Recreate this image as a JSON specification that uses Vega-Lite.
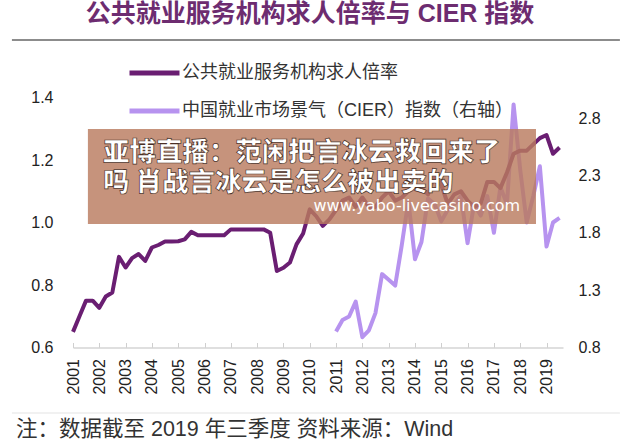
{
  "$schema": "https://vega.github.io/schema/vega-lite/v6.json",
  "width": 490,
  "height": 250,
  "autosize": {"type": "none"},
  "padding": {"left": 73, "top": 97.5, "right": 57, "bottom": 99.5},
  "background": "white",
  "config": {"view": {"stroke": null}, "font": "Liberation Sans, Noto Sans CJK SC"},
  "title": {
    "text": "公共就业服务机构求人倍率与 CIER 指数",
    "font": "Liberation Sans, Noto Sans CJK SC",
    "fontSize": 25,
    "fontWeight": "bold",
    "color": "#6d2c70",
    "anchor": "middle",
    "frame": "group",
    "dx": -8,
    "offset": 12
  },
  "datasets": {
    "ratio": [
      {"date": "2001-01-01", "value": 0.65}, {"date": "2001-04-01", "value": 0.70}, {"date": "2001-07-01", "value": 0.75}, {"date": "2001-10-01", "value": 0.75},
      {"date": "2002-01-01", "value": 0.727}, {"date": "2002-04-01", "value": 0.763}, {"date": "2002-07-01", "value": 0.776}, {"date": "2002-10-01", "value": 0.89},
      {"date": "2003-01-01", "value": 0.856}, {"date": "2003-04-01", "value": 0.886}, {"date": "2003-07-01", "value": 0.899}, {"date": "2003-10-01", "value": 0.877},
      {"date": "2004-01-01", "value": 0.92}, {"date": "2004-04-01", "value": 0.928}, {"date": "2004-07-01", "value": 0.939}, {"date": "2004-10-01", "value": 0.939},
      {"date": "2005-01-01", "value": 0.94}, {"date": "2005-04-01", "value": 0.946}, {"date": "2005-07-01", "value": 0.97}, {"date": "2005-10-01", "value": 0.959},
      {"date": "2006-01-01", "value": 0.959}, {"date": "2006-04-01", "value": 0.959}, {"date": "2006-07-01", "value": 0.959}, {"date": "2006-10-01", "value": 0.959},
      {"date": "2007-01-01", "value": 0.978}, {"date": "2007-04-01", "value": 0.978}, {"date": "2007-07-01", "value": 0.978}, {"date": "2007-10-01", "value": 0.978},
      {"date": "2008-01-01", "value": 0.978}, {"date": "2008-04-01", "value": 0.978}, {"date": "2008-07-01", "value": 0.967}, {"date": "2008-10-01", "value": 0.845},
      {"date": "2009-01-01", "value": 0.855}, {"date": "2009-04-01", "value": 0.872}, {"date": "2009-07-01", "value": 0.93}, {"date": "2009-10-01", "value": 0.965},
      {"date": "2010-01-01", "value": 1.042}, {"date": "2010-04-01", "value": 1.02}, {"date": "2010-07-01", "value": 0.989}, {"date": "2010-10-01", "value": 1.01},
      {"date": "2011-01-01", "value": 1.04}, {"date": "2011-04-01", "value": 1.07}, {"date": "2011-07-01", "value": 1.08}, {"date": "2011-10-01", "value": 1.05},
      {"date": "2012-01-01", "value": 1.08}, {"date": "2012-04-01", "value": 1.05}, {"date": "2012-07-01", "value": 1.05}, {"date": "2012-10-01", "value": 1.08},
      {"date": "2013-01-01", "value": 1.10}, {"date": "2013-04-01", "value": 1.07}, {"date": "2013-07-01", "value": 1.08}, {"date": "2013-10-01", "value": 1.10},
      {"date": "2014-01-01", "value": 1.11}, {"date": "2014-04-01", "value": 1.11}, {"date": "2014-07-01", "value": 1.09}, {"date": "2014-10-01", "value": 1.15},
      {"date": "2015-01-01", "value": 1.12}, {"date": "2015-04-01", "value": 1.06}, {"date": "2015-07-01", "value": 1.09}, {"date": "2015-10-01", "value": 1.10},
      {"date": "2016-01-01", "value": 1.07}, {"date": "2016-04-01", "value": 1.05}, {"date": "2016-07-01", "value": 1.06}, {"date": "2016-10-01", "value": 1.13},
      {"date": "2017-01-01", "value": 1.13}, {"date": "2017-04-01", "value": 1.11}, {"date": "2017-07-01", "value": 1.16}, {"date": "2017-10-01", "value": 1.22},
      {"date": "2018-01-01", "value": 1.23}, {"date": "2018-04-01", "value": 1.23}, {"date": "2018-07-01", "value": 1.25}, {"date": "2018-10-01", "value": 1.27},
      {"date": "2019-01-01", "value": 1.28}, {"date": "2019-04-01", "value": 1.22}, {"date": "2019-07-01", "value": 1.24}
    ],
    "cier": [
      {"date": "2011-01-01", "value": 0.94}, {"date": "2011-04-01", "value": 1.04}, {"date": "2011-07-01", "value": 1.07}, {"date": "2011-10-01", "value": 1.20},
      {"date": "2012-01-01", "value": 0.89}, {"date": "2012-04-01", "value": 0.95}, {"date": "2012-07-01", "value": 1.10}, {"date": "2012-10-01", "value": 1.44},
      {"date": "2013-01-01", "value": 1.39}, {"date": "2013-04-01", "value": 1.34}, {"date": "2013-07-01", "value": 1.69}, {"date": "2013-10-01", "value": 2.08},
      {"date": "2014-01-01", "value": 1.57}, {"date": "2014-04-01", "value": 1.72}, {"date": "2014-07-01", "value": 2.10}, {"date": "2014-10-01", "value": 2.05},
      {"date": "2015-01-01", "value": 1.90}, {"date": "2015-04-01", "value": 2.00}, {"date": "2015-07-01", "value": 2.05}, {"date": "2015-10-01", "value": 2.12},
      {"date": "2016-01-01", "value": 1.71}, {"date": "2016-04-01", "value": 2.05}, {"date": "2016-07-01", "value": 1.95}, {"date": "2016-10-01", "value": 2.12},
      {"date": "2017-01-01", "value": 1.80}, {"date": "2017-04-01", "value": 2.20}, {"date": "2017-07-01", "value": 2.05}, {"date": "2017-10-01", "value": 2.92},
      {"date": "2018-01-01", "value": 2.35}, {"date": "2018-04-01", "value": 1.89}, {"date": "2018-07-01", "value": 2.12}, {"date": "2018-10-01", "value": 2.38},
      {"date": "2019-01-01", "value": 1.68}, {"date": "2019-04-01", "value": 1.89}, {"date": "2019-07-01", "value": 1.93}
    ]
  },
  "layer": [
    {
      "data": {"name": "cier"},
      "mark": {"type": "line", "strokeWidth": 4, "strokeJoin": "round"},
      "encoding": {
        "x": {
          "field": "date", "type": "temporal",
          "scale": {"type": "utc", "domain": [{"year": 2001, "month": 1, "date": 1, "utc": true}, {"year": 2019, "month": 8, "date": 18, "utc": true}]},
          "axis": {
            "title": null, "format": "%Y", "tickCount": {"interval": "year", "step": 1},
            "labelAngle": 270, "labelFontSize": 16, "labelColor": "#222", "labelFont": "Liberation Sans",
            "domainColor": "#d4d4d4", "domainWidth": 1.5, "tickColor": "#cfcfcf", "tickSize": -5, "tickWidth": 1,
            "labelPadding": 16, "grid": false, "labelFlush": false, "labelOverlap": false
          }
        },
        "y": {
          "field": "value", "type": "quantitative",
          "scale": {"domain": [0.8, 2.98], "nice": false, "zero": false},
          "axis": {"orient": "right", "title": null, "values": [0.8, 1.3, 1.8, 2.3, 2.8], "format": ".1f", "domain": false, "ticks": false, "grid": false, "labelPadding": 15, "labelFontSize": 16, "labelColor": "#222", "labelFont": "Liberation Sans"}
        },
        "color": {
          "datum": "中国就业市场景气（CIER）指数（右轴）",
          "scale": {"domain": ["公共就业服务机构求人倍率", "中国就业市场景气（CIER）指数（右轴）"], "range": ["#6a1e72", "#b793ef"]},
          "legend": {
            "orient": "none", "legendX": 54, "legendY": -52, "title": null, "direction": "vertical",
            "symbolType": "stroke", "symbolSize": 2500, "symbolStrokeWidth": 5,
            "labelFontSize": 18, "labelFont": "Liberation Sans, Noto Sans CJK SC", "labelColor": "#333",
            "labelOffset": 0, "rowPadding": -22, "labelLimit": 600
          }
        }
      }
    },
    {
      "data": {"values": [{}]},
      "layer": [
        {
          "data": {"name": "ratio"},
          "mark": {"type": "line", "strokeWidth": 4, "strokeJoin": "round"},
          "encoding": {
            "x": {"field": "date", "type": "temporal", "scale": {"type": "utc"}},
            "y": {
              "field": "value", "type": "quantitative",
              "scale": {"domain": [0.6, 1.4], "nice": false, "zero": false},
              "axis": {"orient": "left", "title": null, "values": [0.6, 0.8, 1.0, 1.2, 1.4], "format": ".1f", "domain": false, "ticks": false, "grid": false, "labelPadding": 20, "labelFontSize": 16, "labelColor": "#222", "labelFont": "Liberation Sans"}
            },
            "color": {"datum": "公共就业服务机构求人倍率"}
          }
        },
        {
          "mark": {"type": "rect", "fill": "#b97b5f", "opacity": 0.82},
          "encoding": {
            "x": {"datum": {"year": 2001, "month": 7, "date": 27, "utc": true}, "type": "temporal"},
            "x2": {"datum": {"year": 2018, "month": 8, "date": 8, "utc": true}},
            "y": {"datum": 1.299, "type": "quantitative"},
            "y2": {"datum": 0.995}
          }
        },
        {
          "mark": {"type": "text", "align": "left", "baseline": "middle", "font": "Noto Sans CJK SC", "fontWeight": 900, "fontSize": 26.5, "fill": "#ffffff", "stroke": "#4a3026", "strokeWidth": 0.7},
          "encoding": {
            "x": {"datum": {"year": 2002, "month": 2, "date": 21, "utc": true}, "type": "temporal"},
            "y": {"datum": 1.224, "type": "quantitative"},
            "text": {"value": "亚博直播：范闲把言冰云救回来了"}
          }
        },
        {
          "mark": {"type": "text", "align": "left", "baseline": "middle", "font": "Noto Sans CJK SC", "fontWeight": 900, "fontSize": 26.5, "fill": "#ffffff", "stroke": "#4a3026", "strokeWidth": 0.7},
          "encoding": {
            "x": {"datum": {"year": 2002, "month": 2, "date": 21, "utc": true}, "type": "temporal"},
            "y": {"datum": 1.128, "type": "quantitative"},
            "text": {"value": "吗 肖战言冰云是怎么被出卖的"}
          }
        },
        {
          "mark": {"type": "text", "align": "right", "baseline": "middle", "font": "DejaVu Sans", "fontSize": 16, "fill": "#ffffff"},
          "encoding": {
            "x": {"datum": {"year": 2017, "month": 12, "date": 31, "utc": true}, "type": "temporal"},
            "y": {"datum": 1.054, "type": "quantitative"},
            "text": {"value": "www.yabo-livecasino.com"}
          }
        },
        {
          "mark": {"type": "rule", "stroke": "#8c8c8c", "strokeWidth": 2, "clip": false},
          "encoding": {
            "x": {"datum": {"year": 1998, "month": 9, "date": 6, "utc": true}, "type": "temporal"},
            "x2": {"datum": {"year": 2021, "month": 10, "date": 16, "utc": true}},
            "y": {"datum": 1.584, "type": "quantitative"}
          }
        },
        {
          "mark": {"type": "rule", "stroke": "#e3e3e3", "strokeWidth": 1, "clip": false},
          "encoding": {
            "x": {"datum": {"year": 1998, "month": 9, "date": 6, "utc": true}, "type": "temporal"},
            "x2": {"datum": {"year": 2021, "month": 10, "date": 16, "utc": true}},
            "y": {"datum": 0.3904, "type": "quantitative"}
          }
        },
        {
          "mark": {"type": "text", "align": "left", "baseline": "middle", "font": "Liberation Sans, Noto Sans CJK SC", "fontSize": 21.5, "fill": "#333333"},
          "encoding": {
            "x": {"datum": {"year": 1998, "month": 11, "date": 1, "utc": true}, "type": "temporal"},
            "y": {"datum": 0.336, "type": "quantitative"},
            "text": {"value": "注：数据截至 2019 年三季度 资料来源：Wind"}
          }
        }
      ]
    }
  ],
  "resolve": {"scale": {"y": "independent"}}
}
